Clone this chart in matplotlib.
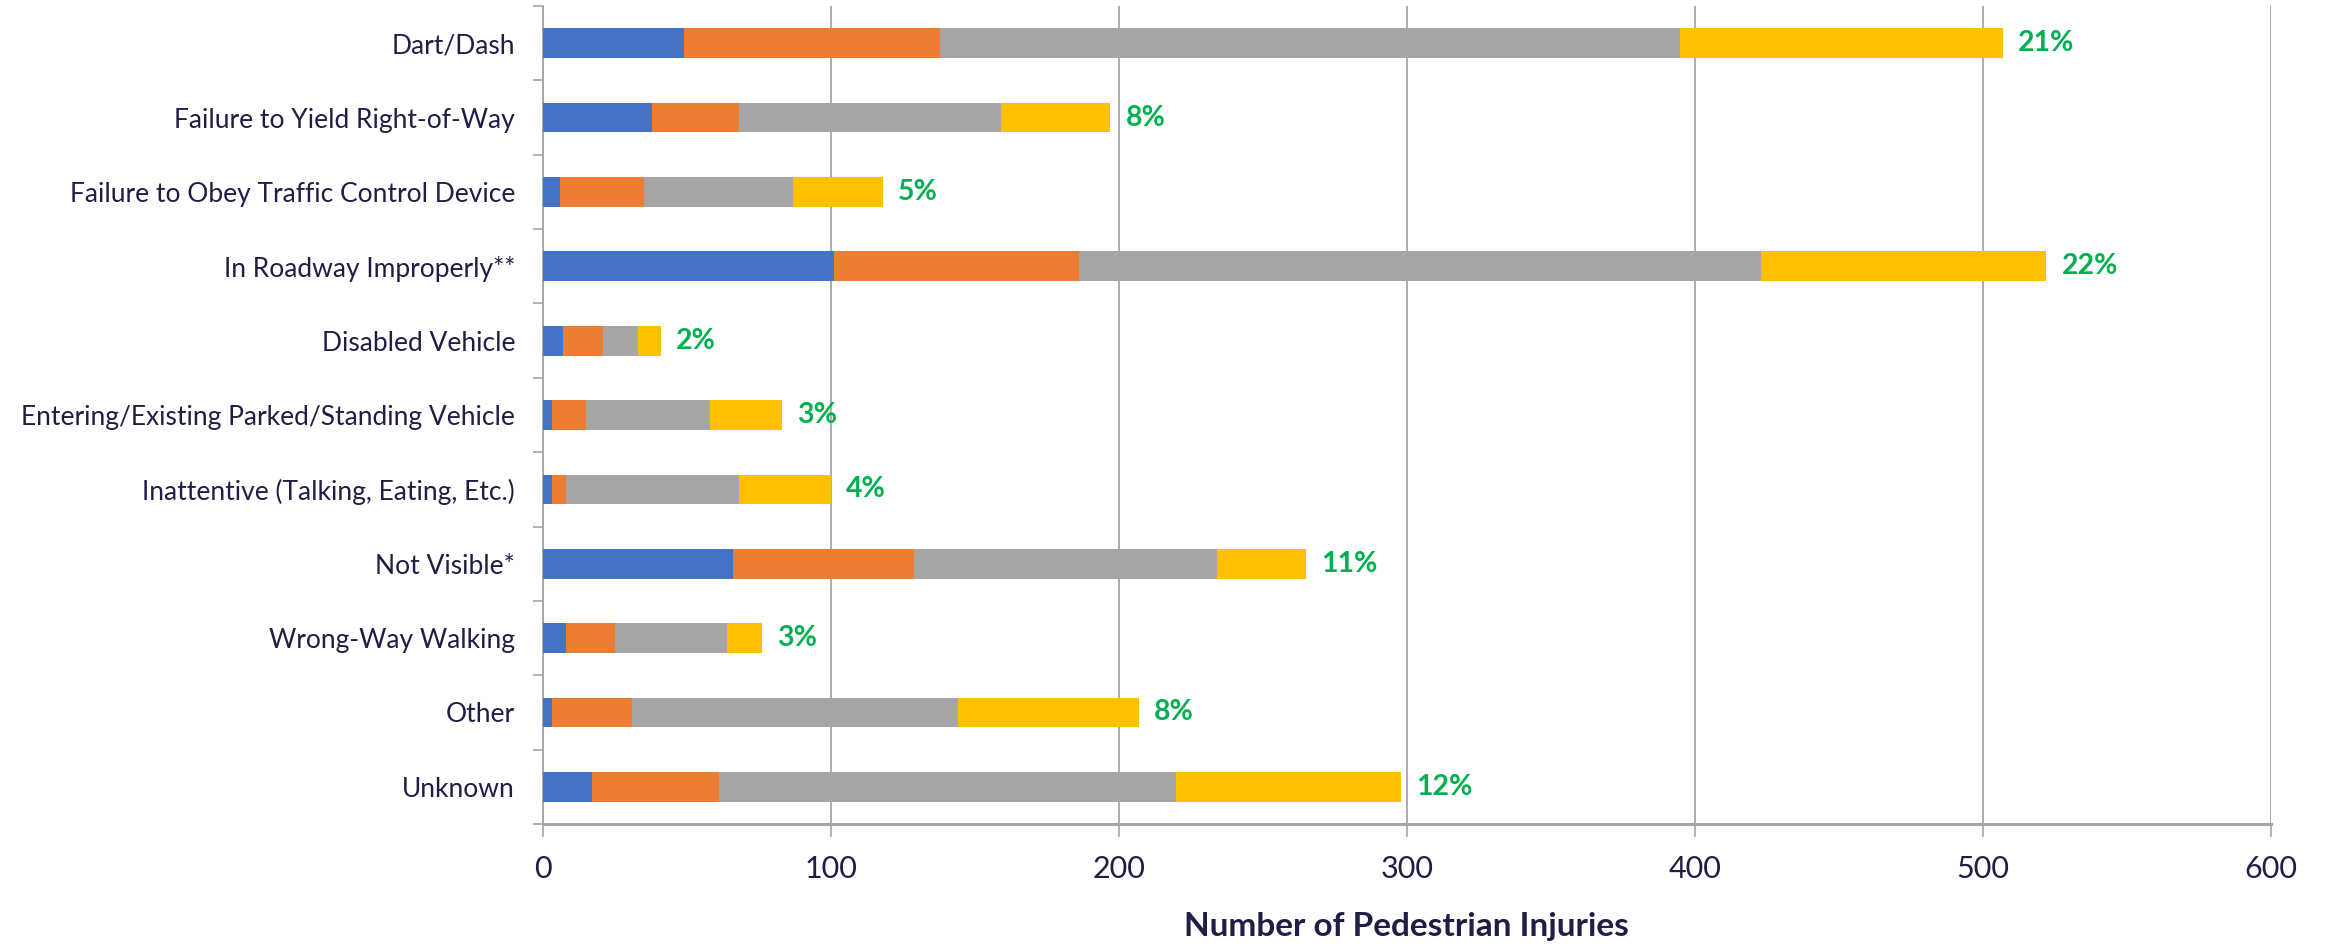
import matplotlib
matplotlib.use("Agg")
import matplotlib.pyplot as plt
import numpy as np

categories = [
    "Dart/Dash",
    "Failure to Yield Right-of-Way",
    "Failure to Obey Traffic Control Device",
    "In Roadway Improperly**",
    "Disabled Vehicle",
    "Entering/Existing Parked/Standing Vehicle",
    "Inattentive (Talking, Eating, Etc.)",
    "Not Visible*",
    "Wrong-Way Walking",
    "Other",
    "Unknown",
]
series1 = [49, 38, 6, 101, 7, 3, 3, 66, 8, 3, 17]
series2 = [89, 30, 29, 85, 14, 12, 5, 63, 17, 28, 44]
series3 = [257, 91, 52, 237, 12, 43, 60, 105, 39, 113, 159]
series4 = [112, 38, 31, 99, 8, 25, 32, 31, 12, 63, 78]
pct_labels = ["21%", "8%", "5%", "22%", "2%", "3%", "4%", "11%", "3%", "8%", "12%"]
x_ticks = [0, 100, 200, 300, 400, 500, 600]
x_label = "Number of Pedestrian Injuries"

colors = ["#4472C4", "#ED7D31", "#A5A5A5", "#FFC000"]
text_color = "#1F1F45"
grid_color = "#A6A6A6"

plt.rcParams['font.family'] = ['Lato', 'DejaVu Sans']

fig = plt.figure(figsize=(23.26, 9.44), dpi=100)
ax = fig.add_axes([0.2334, 0.1271, 0.7429, 0.8665])

y = np.arange(len(categories))
left = np.zeros(len(categories))
for vals, c in zip([series1, series2, series3, series4], colors):
    v = np.array(vals, dtype=float)
    ax.barh(y, v, left=left, height=0.4, color=c, zorder=3)
    left += v

for yi, tot, lab in zip(y, left, pct_labels):
    ax.annotate(lab, xy=(tot, yi), xytext=(11, 0), textcoords="offset points",
                ha="left", va="center", color="#00B050", fontsize=20.5,
                fontweight="bold")

ax.set_ylim(len(categories) - 0.5, -0.5)
ax.set_xlim(0, 600)
ax.set_xticks(x_ticks)
ax.set_xticklabels([str(t) for t in x_ticks])
ax.set_yticks(y)
ax.set_yticklabels(categories)
ax.set_yticks(np.arange(len(categories) + 1) - 0.5, minor=True)

ax.tick_params(axis="y", which="major", length=0, pad=20, labelsize=19,
               labelcolor=text_color)
ax.tick_params(axis="y", which="minor", length=7, width=1.2, color=grid_color,
               direction="out")
ax.tick_params(axis="x", which="major", length=9, width=1.2, color=grid_color,
               pad=13, labelsize=22, labelcolor=text_color)

ax.xaxis.grid(True, color=grid_color, linewidth=1.3, zorder=0)
ax.set_axisbelow(True)

for s in ["top", "right"]:
    ax.spines[s].set_visible(False)
ax.spines["left"].set_color(grid_color)
ax.spines["left"].set_linewidth(1.3)
ax.spines["bottom"].set_color(grid_color)
ax.spines["bottom"].set_linewidth(2.2)

ax.set_xlabel(x_label, fontsize=24, fontweight="bold", color=text_color,
              labelpad=21)

fig.savefig("out.png", dpi=100)
